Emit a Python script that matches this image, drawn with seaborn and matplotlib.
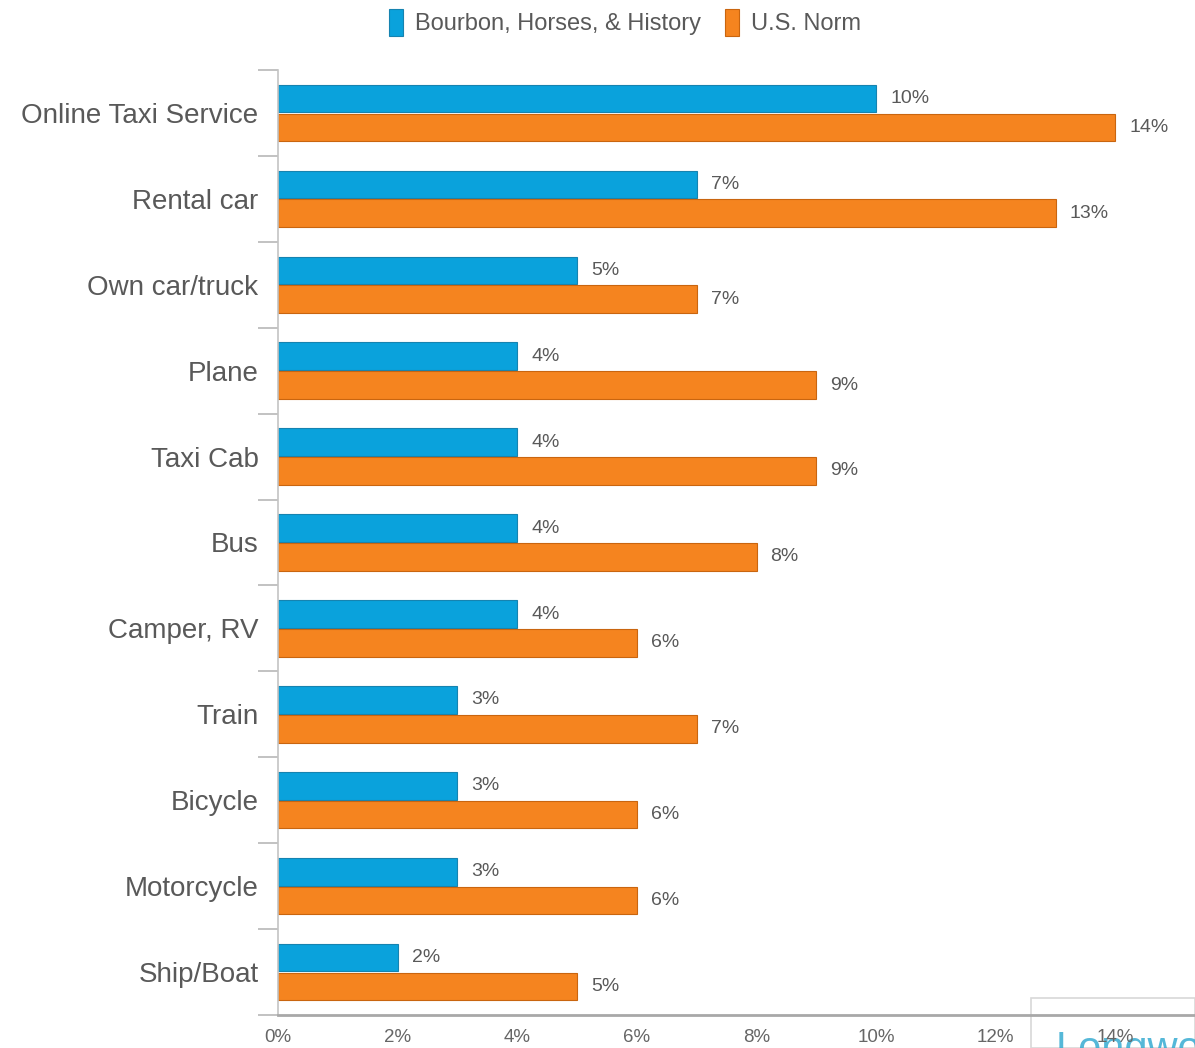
import matplotlib
matplotlib.use("Agg")
import matplotlib.pyplot as plt
import seaborn as sns
import pandas as pd
from matplotlib.patches import Patch, Rectangle

categories = ["Online Taxi Service", "Rental car", "Own car/truck", "Plane", "Taxi Cab",
              "Bus", "Camper, RV", "Train", "Bicycle", "Motorcycle", "Ship/Boat"]
series_names = ["Bourbon, Horses, & History", "U.S. Norm"]
bourbon = [10, 7, 5, 4, 4, 4, 4, 3, 3, 3, 2]
us_norm = [14, 13, 7, 9, 9, 8, 6, 7, 6, 6, 5]
x_ticks = [0, 2, 4, 6, 8, 10, 12, 14]
x_tick_labels = ["0%", "2%", "4%", "6%", "8%", "10%", "12%", "14%"]

colors = ["#0aa2dc", "#f5841f"]
edges = ["#1683b0", "#c9650f"]

df = pd.DataFrame({
    "category": categories * 2,
    "value": bourbon + us_norm,
    "series": [series_names[0]] * len(categories) + [series_names[1]] * len(categories),
})

sns.set_theme(style="white")
plt.rcParams["font.family"] = ["Liberation Sans", "DejaVu Sans"]

fig = plt.figure(figsize=(11.95, 10.48), dpi=100)

# watermark box in the lower right corner (behind the axes)
fig.patches.append(Rectangle((1031 / 1195, 0), 1 - 1031 / 1195, 50 / 1048,
                             transform=fig.transFigure, facecolor="white",
                             edgecolor="#d8d8d8", linewidth=1.2, zorder=-2))
fig.text(1056 / 1195, -22 / 1048, "Longwoods", fontsize=30, color="#2aa6cf",
         ha="left", va="bottom", alpha=0.8, zorder=-1)

ax = fig.add_axes([278 / 1195, 1 - 1015 / 1048, 1 - 278 / 1195, (1015 - 70) / 1048])
ax.patch.set_visible(False)

sns.barplot(data=df, x="value", y="category", hue="series", order=categories,
            hue_order=series_names, palette=colors, orient="h", width=0.67,
            gap=0.04, ax=ax, legend=False, saturation=1)

for cont, ec in zip(ax.containers, edges):
    for p in cont:
        p.set_edgecolor(ec)
        p.set_linewidth(0.8)
    ax.bar_label(cont, fmt="%d%%", padding=10, fontsize=14, color="#595959")

ax.set_xlim(0, 15.33)
ax.set_ylim(len(categories) - 0.5, -0.5)
ax.set_xticks(x_ticks)
ax.set_xticklabels(x_tick_labels, fontsize=13.5, color="#666666")
ax.tick_params(axis="x", length=0, pad=10)
ax.set_yticks(range(len(categories)))
ax.set_yticklabels(categories, fontsize=20, color="#595959")
ax.tick_params(axis="y", which="major", length=0, pad=14)
ax.set_yticks([i - 0.5 for i in range(len(categories) + 1)], minor=True)
ax.tick_params(axis="y", which="minor", length=14.4, width=1.2, color="#b8b8b8", left=True)
ax.set_xlabel("")
ax.set_ylabel("")

for s in ["top", "right"]:
    ax.spines[s].set_visible(False)
ax.spines["left"].set_color("#c4c4c4")
ax.spines["left"].set_linewidth(1.2)
ax.spines["bottom"].set_color("#a8a8a8")
ax.spines["bottom"].set_linewidth(2)

# legend
handles = [Patch(facecolor=c, edgecolor=e, linewidth=0.8) for c, e in zip(colors, edges)]
fig.legend(handles, series_names, loc="upper center", bbox_to_anchor=(0.523, 1.012),
           ncol=2, frameon=False, fontsize=17, labelcolor="#595959",
           handlelength=0.6, handleheight=1.4, handletextpad=0.5, columnspacing=1.0)

fig.savefig("out.png", dpi=100)
